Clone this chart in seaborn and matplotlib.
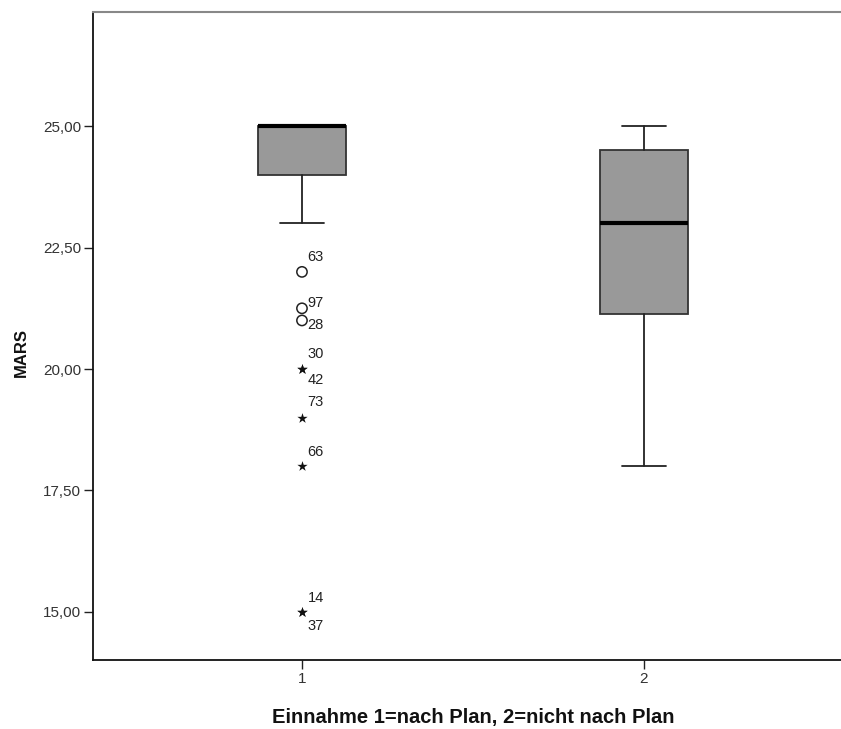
import numpy as np
import matplotlib
matplotlib.use("Agg")
import matplotlib.pyplot as plt
import seaborn as sns
import pandas as pd

# ── Data ────────────────────────────────────────────────────────────
groups   = ["1", "2"]
q1       = [24.0, 21.125]
median   = [25.0, 23.0]
q3       = [25.0, 24.5]
whis_lo  = [23.0, 18.0]
whis_hi  = [25.0, 25.0]

# outliers of group 1: case number, value, kind (o = mild, * = extreme)
out_case  = [63, 97, 28, 30, 42, 73, 66, 14, 37]
out_value = [22.0, 21.25, 21.0, 20.0, 20.0, 19.0, 18.0, 15.0, 15.0]
out_kind  = ["o", "o", "o", "*", "*", "*", "*", "*", "*"]
out_group = [0] * len(out_case)

yticks = [15.0, 17.5, 20.0, 22.5, 25.0]

# label offsets in points (SPSS puts them up-right, split when stacked)
lab_dy = [11, 4, -3, 11, -8, 11, 10, 10, -10]

sns.set_style("white")
plt.rcParams["font.family"] = ["Liberation Sans", "DejaVu Sans"]

fig = plt.figure(figsize=(8.41, 7.29), dpi=100)
ax = fig.add_axes([93 / 841, 69 / 729, 748 / 841, 648 / 729])

stats = []
for i, g in enumerate(groups):
    stats.append(dict(label=g, q1=q1[i], med=median[i], q3=q3[i],
                      whislo=whis_lo[i], whishi=whis_hi[i], fliers=[]))

ax.bxp(stats, positions=range(len(groups)), widths=0.255, patch_artist=True,
       showfliers=False,
       boxprops=dict(facecolor="#999999", edgecolor="#333333", linewidth=1.3),
       medianprops=dict(color="black", linewidth=3),
       whiskerprops=dict(color="#222222", linewidth=1.3),
       capprops=dict(color="#222222", linewidth=1.3),
       capwidths=0.127)

df_out = pd.DataFrame({"grp": out_group, "value": out_value, "kind": out_kind})
mild = df_out[df_out["kind"] == "o"]
extr = df_out[df_out["kind"] == "*"]
sns.scatterplot(data=mild, x="grp", y="value", marker="o", s=55,
                facecolor="none", edgecolor="#222222", linewidth=1.1, ax=ax)
sns.scatterplot(data=extr, x="grp", y="value", marker="*", s=60,
                color="#111111", linewidth=0, ax=ax)

for c, v, g, dy in zip(out_case, out_value, out_group, lab_dy):
    ax.annotate(str(c), (g, v), xytext=(4, dy), textcoords="offset points",
                ha="left", va="center", fontsize=10.5, color="#222222")

ax.set_xlim(-0.611, 1.576)
ax.set_ylim(14.01, 27.35)
ax.set_xticks(range(len(groups)))
ax.set_xticklabels(groups)
ax.set_yticks(yticks)
ax.set_yticklabels([f"{t:.2f}".replace(".", ",") for t in yticks])
ax.tick_params(axis="both", direction="out", length=6.5, width=1,
               color="#222222", labelsize=11, labelcolor="#333333", pad=2,
               left=True, bottom=True)

for s in ["left", "bottom"]:
    ax.spines[s].set_color("#111111")
    ax.spines[s].set_linewidth(1.3)
ax.spines["top"].set_color("#888888")
ax.spines["top"].set_linewidth(1.5)
ax.spines["right"].set_visible(False)

ax.set_xlabel("Einnahme 1=nach Plan, 2=nicht nach Plan", fontsize=14.5,
              fontweight="bold", color="#111111")
ax.set_ylabel("MARS", fontsize=12, fontweight="bold", color="#111111")
ax.xaxis.set_label_coords(0.509, -0.088)
ax.yaxis.set_label_coords(-0.096, 0.475)
ax.xaxis.label.set_va("center")
ax.yaxis.label.set_va("center")

fig.savefig("out.png", dpi=100)
plt.close()
